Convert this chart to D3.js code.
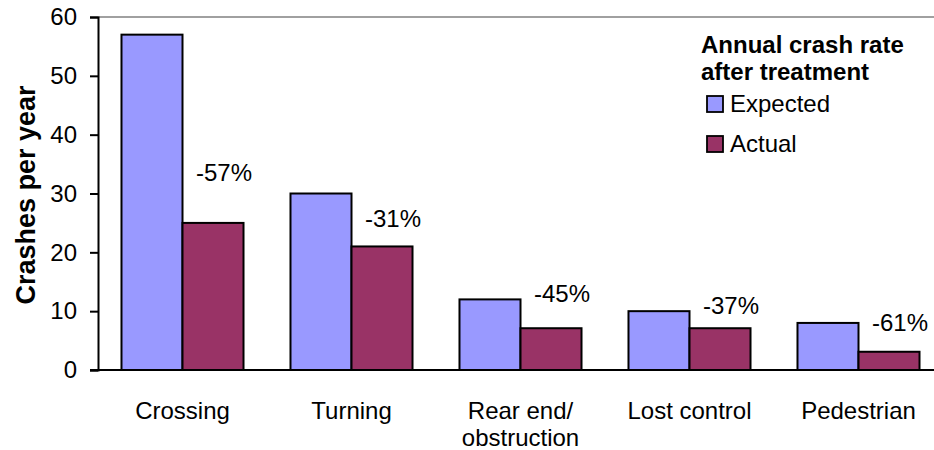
<!DOCTYPE html>
<html>
<head>
<meta charset="utf-8">
<script src="https://cdn.jsdelivr.net/npm/d3@7/dist/d3.min.js"></script>
<style>
  html, body { margin: 0; padding: 0; background: #fff; }
  svg { display: block; font-family: "Liberation Sans", Arial, sans-serif; }
</style>
</head>
<body>
<svg id="chart" width="934" height="450"></svg>
<script>
// Crash types and the annual crash rates before/after treatment
const categories = [["Crossing"], ["Turning"], ["Rear end/", "obstruction"], ["Lost control"], ["Pedestrian"]];
const seriesNames = ["Expected", "Actual"];
const expected = [57, 30, 12, 10, 8];
const actual = [25, 21, 7.1, 7.1, 3.1];
const changeLabels = ["-57%", "-31%", "-45%", "-37%", "-61%"];
// level (crashes per year) at which each change label sits
const changeLabelLevel = [32.1, 24.3, 11.6, 9.5, 6.6];
const yTicks = [0, 10, 20, 30, 40, 50, 60];

const colors = { Expected: "#9999FF", Actual: "#993366" };

const svg = d3.select("#chart");
const plotLeft = 98, plotTop = 17, plotBottom = 370, step = 169;
const plotRight = plotLeft + step * categories.length;

const keys = categories.map(c => c.join(" "));
const x = d3.scaleBand().domain(keys).range([plotLeft, plotRight]).padding(0);
const xs = d3.scaleBand().domain(seriesNames).range([0, x.bandwidth()])
  .paddingInner(0).paddingOuter(0.385);
const y = d3.scaleLinear().domain([0, 60]).range([plotBottom, plotTop]);

// plot area top border
svg.append("line")
  .attr("x1", plotLeft).attr("x2", 934).attr("y1", plotTop).attr("y2", plotTop)
  .attr("stroke", "#808080").attr("stroke-width", 1.5);

// bars
const rows = keys.map((k, i) => ({ key: k, values: [
  { s: "Expected", v: expected[i] },
  { s: "Actual", v: actual[i] }
]}));

const groups = svg.append("g").selectAll("g").data(rows).join("g")
  .attr("transform", d => `translate(${x(d.key)},0)`);

groups.selectAll("rect").data(d => d.values).join("rect")
  .attr("x", d => xs(d.s))
  .attr("y", d => y(d.v))
  .attr("width", xs.bandwidth())
  .attr("height", d => y(0) - y(d.v))
  .attr("fill", d => colors[d.s])
  .attr("stroke", "#000")
  .attr("stroke-width", 2);

// change labels
svg.append("g").selectAll("text").data(rows).join("text")
  .attr("x", (d, i) => x(d.key) + xs("Actual") + xs.bandwidth() / 2 + 11)
  .attr("y", (d, i) => y(changeLabelLevel[i]))
  .attr("text-anchor", "middle")
  .attr("font-size", 24)
  .attr("fill", "#000")
  .text((d, i) => changeLabels[i]);

// y axis
const yAxis = svg.append("g")
  .attr("transform", `translate(${plotLeft},0)`)
  .call(d3.axisLeft(y).tickValues(yTicks).tickSize(8).tickPadding(13).tickFormat(d3.format("d")));
yAxis.select(".domain").attr("stroke", "#000").attr("stroke-width", 2);
yAxis.selectAll(".tick line").attr("stroke", "#000").attr("stroke-width", 2);
yAxis.selectAll(".tick text").attr("font-size", 24).attr("fill", "#000")
  .attr("font-family", "'Liberation Sans', Arial, sans-serif");

// x axis baseline
svg.append("line")
  .attr("x1", plotLeft - 8).attr("x2", 934).attr("y1", y(0)).attr("y2", y(0))
  .attr("stroke", "#000").attr("stroke-width", 2);

// category labels
const catText = svg.append("g").selectAll("text").data(categories).join("text")
  .attr("text-anchor", "middle")
  .attr("font-size", 24)
  .attr("fill", "#000")
  .attr("transform", (d, i) => `translate(${x(keys[i]) + x.bandwidth() / 2},${plotBottom + 49})`);
catText.selectAll("tspan").data(d => d).join("tspan")
  .attr("x", 0)
  .attr("dy", (d, i) => i === 0 ? 0 : 27)
  .text(d => d);

// y axis title
svg.append("text")
  .attr("transform", "translate(35,195) rotate(-90)")
  .attr("text-anchor", "middle")
  .attr("font-size", 27)
  .attr("font-weight", "bold")
  .attr("fill", "#000")
  .text("Crashes per year");

// legend
const legend = svg.append("g").attr("transform", "translate(701,0)");
legend.selectAll("text.title").data(["Annual crash rate", "after treatment"]).join("text")
  .attr("class", "title")
  .attr("x", 0)
  .attr("y", (d, i) => 53 + i * 27)
  .attr("font-size", 24)
  .attr("font-weight", "bold")
  .attr("fill", "#000")
  .text(d => d);

const items = legend.selectAll("g.item").data(seriesNames).join("g")
  .attr("class", "item")
  .attr("transform", (d, i) => `translate(0,${104 + i * 40})`);
items.append("rect")
  .attr("x", 6).attr("y", -8).attr("width", 16).attr("height", 16)
  .attr("fill", d => colors[d]).attr("stroke", "#000").attr("stroke-width", 1.8);
items.append("text")
  .attr("x", 29).attr("y", 8)
  .attr("font-size", 24)
  .attr("fill", "#000")
  .text(d => d);
</script>
</body>
</html>
